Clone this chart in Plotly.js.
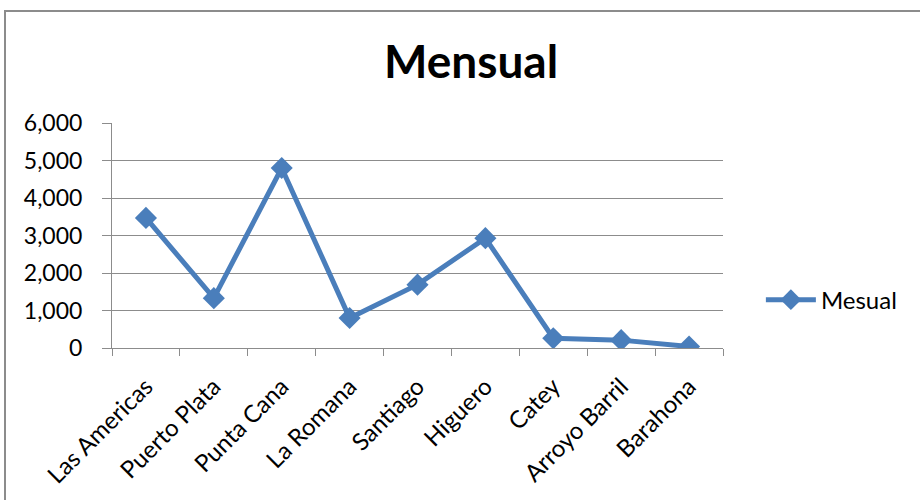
<!DOCTYPE html>
<html>
<head>
<meta charset="utf-8">
<script src="https://cdn.plot.ly/plotly-3.0.1.min.js"></script>
<style>
html,body{margin:0;padding:0;background:#fff;}
#wrap{position:relative;width:920px;height:500px;overflow:hidden;}
#chart{position:absolute;left:0;top:0;width:920px;height:500px;}
#frame{position:absolute;left:4px;top:10px;width:1000px;height:600px;border-left:2px solid #8c8c8c;border-top:2px solid #8c8c8c;pointer-events:none;}
</style>
</head>
<body>
<div id="wrap"><div id="chart"></div><div id="frame"></div></div>
<script>
const categories = ["Las Americas","Puerto Plata","Punta Cana","La Romana","Santiago","Higuero","Catey","Arroyo Barril","Barahona"];
const mesual = [3470, 1330, 4800, 800, 1690, 2930, 260, 210, 40];
const yTicks = [0, 1000, 2000, 3000, 4000, 5000, 6000];
const yTickLabels = ["0","1,000","2,000","3,000","4,000","5,000","6,000"];
const seriesName = "Mesual";
const chartTitle = "Mensual";

const FONT = "Lato, 'Open Sans', sans-serif";
const trace = {
  x: categories, y: mesual, name: seriesName, type: "scatter", mode: "lines+markers",
  line: {color: "#4a7ebb", width: 5},
  marker: {symbol: "diamond", size: 17, color: "#4a7ebb"}
};
const layout = {
  width: 920, height: 500,
  margin: {l: 112, r: 197, t: 123, b: 152},
  paper_bgcolor: "#fff", plot_bgcolor: "#fff",
  font: {family: FONT, color: "#000", size: 23},
  title: {text: "<b>" + chartTitle + "</b>", font: {family: FONT, size: 46, color: "#000"},
          xref: "container", x: 0.512, xanchor: "center", yref: "container", y: 0.876, yanchor: "middle"},
  showlegend: true,
  legend: {x: 1.062, xanchor: "left", y: 0.213, yanchor: "middle", itemwidth: 50,
           font: {size: 24, family: FONT}, bgcolor: "rgba(0,0,0,0)"},
  xaxis: {
    type: "category", range: [-0.5, 8.5], tickangle: -45, tickson: "boundaries",
    ticks: "outside", ticklen: 7, tickcolor: "#8c8c8c", showline: true, linecolor: "#8c8c8c", linewidth: 1,
    showgrid: false, zeroline: false, tickfont: {size: 24, family: FONT}, ticklabelstandoff: 14, fixedrange: true
  },
  yaxis: {
    range: [0, 6000], tickvals: yTicks, ticktext: yTickLabels, ticks: "outside", ticklen: 9,
    tickcolor: "#8c8c8c", showline: true, linecolor: "#8c8c8c", linewidth: 1,
    showgrid: true, gridcolor: "#8c8c8c", gridwidth: 1, zeroline: false,
    tickfont: {size: 23, family: FONT}, ticklabelstandoff: 15, fixedrange: true
  }
};
Plotly.newPlot("chart", [trace], layout, {displayModeBar: false, staticPlot: true});
</script>
</body>
</html>
